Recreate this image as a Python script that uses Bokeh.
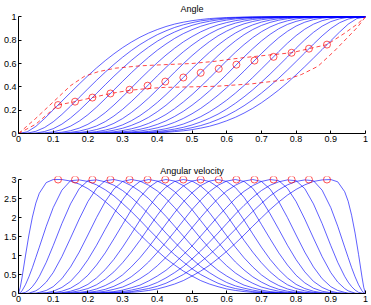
from bokeh.plotting import figure
from bokeh.layouts import column
from bokeh.embed import file_html
from bokeh.resources import INLINE
from bokeh.models import FixedTicker, Range1d

# time grids (s, normalised)
x_vel = [0, 0.005, 0.01, 0.02, 0.03, 0.04, 0.05, 0.06, 0.08, 0.1, 0.125, 0.15, 0.175, 0.2, 0.225,
         0.25, 0.275, 0.3, 0.325, 0.35, 0.375, 0.4, 0.425, 0.45, 0.475, 0.5, 0.525, 0.55, 0.575,
         0.6, 0.625, 0.65, 0.675, 0.7, 0.725, 0.75, 0.775, 0.8, 0.825, 0.85, 0.875, 0.9, 0.92,
         0.94, 0.95, 0.96, 0.97, 0.98, 0.99, 0.995, 1]
x_ang = [0, 0.025, 0.05, 0.075, 0.1, 0.125, 0.15, 0.175, 0.2, 0.225, 0.25, 0.275, 0.3, 0.325,
         0.35, 0.375, 0.4, 0.425, 0.45, 0.475, 0.5, 0.525, 0.55, 0.575, 0.6, 0.625, 0.65, 0.675,
         0.7, 0.725, 0.75, 0.775, 0.8, 0.825, 0.85, 0.875, 0.9, 0.925, 0.95, 0.975, 1]

# peaks (red circles)
peak_t = [0.114, 0.163, 0.213, 0.265, 0.320, 0.372, 0.423, 0.475,
          0.525, 0.577, 0.628, 0.680, 0.735, 0.787, 0.837, 0.889]
peak_angle = [0.244, 0.273, 0.308, 0.343, 0.375, 0.410, 0.445, 0.480,
              0.520, 0.555, 0.590, 0.625, 0.657, 0.692, 0.727, 0.762]
peak_vel = [3, 3, 3, 3, 3, 3, 3, 3, 3, 3, 3, 3, 3, 3, 3, 3]

# red dashed bounds on the angle plot
upper_x = [0, 0.05, 0.10, 0.15, 0.19, 0.23, 0.28, 0.35, 0.42, 0.50, 0.57, 0.62, 0.673, 0.73, 0.787, 0.837, 0.889, 0.94, 0.975, 1]
upper_y = [0, 0.13, 0.27, 0.41, 0.49, 0.53, 0.56, 0.58, 0.59, 0.60, 0.62, 0.64, 0.658, 0.675, 0.692, 0.727, 0.762, 0.86, 0.935, 1]
lower_x = [0, 0.05, 0.085, 0.114, 0.163, 0.213, 0.265, 0.32, 0.37, 0.42, 0.50, 0.57, 0.67, 0.77, 0.815, 0.863, 0.91, 0.948, 0.976, 1]
lower_y = [0, 0.08, 0.17, 0.244, 0.273, 0.308, 0.343, 0.37, 0.385, 0.395, 0.40, 0.405, 0.425, 0.46, 0.505, 0.576, 0.706, 0.822, 0.908, 1]

# angular velocity curves (on x_vel)
vel_0 = [0, 0.16, 0.41, 0.99, 1.54, 2.01, 2.38, 2.64, 2.92, 3, 3, 2.96, 2.88, 2.76, 2.6, 2.42, 2.22, 2, 1.78, 1.55, 1.33, 1.12, 0.92, 0.75, 0.59, 0.46, 0.34, 0.25, 0.18, 0.12, 0.08, 0.05, 0.03, 0.02, 0.01, 0, 0, 0, 0, 0, 0, 0, 0, 0, 0, 0, 0, 0, 0, 0, 0]
vel_1 = [0, 0.02, 0.07, 0.23, 0.44, 0.68, 0.95, 1.22, 1.77, 2.26, 2.72, 2.97, 2.99, 2.95, 2.86, 2.73, 2.57, 2.37, 2.16, 1.93, 1.69, 1.46, 1.23, 1.02, 0.83, 0.65, 0.5, 0.38, 0.27, 0.19, 0.13, 0.09, 0.05, 0.03, 0.02, 0.01, 0, 0, 0, 0, 0, 0, 0, 0, 0, 0, 0, 0, 0, 0, 0]
vel_2 = [0, 0, 0.01, 0.03, 0.09, 0.18, 0.3, 0.45, 0.82, 1.26, 1.84, 2.36, 2.76, 2.97, 2.99, 2.94, 2.85, 2.71, 2.53, 2.32, 2.09, 1.84, 1.59, 1.35, 1.12, 0.91, 0.71, 0.55, 0.41, 0.29, 0.2, 0.14, 0.09, 0.05, 0.03, 0.02, 0.01, 0, 0, 0, 0, 0, 0, 0, 0, 0, 0, 0, 0, 0, 0]
vel_3 = [0, 0, 0, 0, 0.01, 0.04, 0.07, 0.13, 0.3, 0.55, 0.97, 1.46, 1.96, 2.42, 2.77, 2.97, 3, 2.95, 2.84, 2.69, 2.5, 2.27, 2.03, 1.77, 1.51, 1.25, 1.02, 0.8, 0.61, 0.46, 0.33, 0.22, 0.15, 0.09, 0.05, 0.03, 0.01, 0.01, 0, 0, 0, 0, 0, 0, 0, 0, 0, 0, 0, 0, 0]
vel_4 = [0, 0, 0, 0, 0, 0.01, 0.01, 0.03, 0.08, 0.18, 0.39, 0.7, 1.09, 1.54, 2, 2.42, 2.75, 2.95, 3, 2.96, 2.85, 2.7, 2.5, 2.26, 2, 1.73, 1.45, 1.19, 0.95, 0.73, 0.54, 0.39, 0.27, 0.17, 0.11, 0.06, 0.03, 0.02, 0.01, 0, 0, 0, 0, 0, 0, 0, 0, 0, 0, 0, 0]
vel_5 = [0, 0, 0, 0, 0, 0, 0, 0.01, 0.02, 0.06, 0.16, 0.32, 0.57, 0.89, 1.27, 1.69, 2.1, 2.47, 2.77, 2.95, 3, 2.96, 2.85, 2.68, 2.46, 2.21, 1.92, 1.63, 1.35, 1.08, 0.83, 0.62, 0.44, 0.3, 0.19, 0.11, 0.06, 0.03, 0.01, 0.01, 0, 0, 0, 0, 0, 0, 0, 0, 0, 0, 0]
vel_6 = [0, 0, 0, 0, 0, 0, 0, 0, 0.01, 0.02, 0.06, 0.14, 0.28, 0.48, 0.75, 1.07, 1.44, 1.82, 2.2, 2.53, 2.79, 2.95, 3, 2.96, 2.84, 2.65, 2.41, 2.13, 1.83, 1.52, 1.22, 0.94, 0.7, 0.49, 0.33, 0.21, 0.12, 0.06, 0.03, 0.01, 0, 0, 0, 0, 0, 0, 0, 0, 0, 0, 0]
vel_7 = [0, 0, 0, 0, 0, 0, 0, 0, 0, 0.01, 0.02, 0.06, 0.13, 0.24, 0.41, 0.63, 0.9, 1.22, 1.57, 1.93, 2.27, 2.57, 2.8, 2.95, 3, 2.96, 2.83, 2.63, 2.36, 2.06, 1.73, 1.4, 1.09, 0.81, 0.57, 0.38, 0.23, 0.13, 0.07, 0.03, 0.01, 0, 0, 0, 0, 0, 0, 0, 0, 0, 0]
vel_8 = [0, 0, 0, 0, 0, 0, 0, 0, 0, 0, 0.01, 0.03, 0.07, 0.13, 0.23, 0.38, 0.57, 0.81, 1.09, 1.4, 1.73, 2.06, 2.36, 2.63, 2.83, 2.96, 3, 2.95, 2.8, 2.57, 2.27, 1.93, 1.57, 1.22, 0.9, 0.63, 0.41, 0.24, 0.13, 0.06, 0.02, 0.01, 0, 0, 0, 0, 0, 0, 0, 0, 0]
vel_9 = [0, 0, 0, 0, 0, 0, 0, 0, 0, 0, 0, 0.01, 0.03, 0.06, 0.12, 0.21, 0.33, 0.49, 0.7, 0.94, 1.22, 1.52, 1.83, 2.13, 2.41, 2.65, 2.84, 2.96, 3, 2.95, 2.79, 2.53, 2.2, 1.82, 1.44, 1.07, 0.75, 0.48, 0.28, 0.14, 0.06, 0.02, 0.01, 0, 0, 0, 0, 0, 0, 0, 0]
vel_10 = [0, 0, 0, 0, 0, 0, 0, 0, 0, 0, 0, 0.01, 0.01, 0.03, 0.06, 0.11, 0.19, 0.3, 0.44, 0.62, 0.83, 1.08, 1.35, 1.63, 1.92, 2.21, 2.46, 2.68, 2.85, 2.96, 3, 2.95, 2.77, 2.47, 2.1, 1.69, 1.27, 0.89, 0.57, 0.32, 0.16, 0.06, 0.02, 0.01, 0, 0, 0, 0, 0, 0, 0]
vel_11 = [0, 0, 0, 0, 0, 0, 0, 0, 0, 0, 0, 0, 0.01, 0.02, 0.03, 0.06, 0.11, 0.17, 0.27, 0.39, 0.54, 0.73, 0.95, 1.19, 1.45, 1.73, 2, 2.26, 2.5, 2.7, 2.85, 2.96, 3, 2.95, 2.75, 2.42, 2, 1.54, 1.09, 0.7, 0.39, 0.18, 0.08, 0.03, 0.01, 0.01, 0, 0, 0, 0, 0]
vel_12 = [0, 0, 0, 0, 0, 0, 0, 0, 0, 0, 0, 0, 0, 0.01, 0.01, 0.03, 0.05, 0.09, 0.15, 0.22, 0.33, 0.46, 0.61, 0.8, 1.02, 1.25, 1.51, 1.77, 2.03, 2.27, 2.5, 2.69, 2.84, 2.95, 3, 2.97, 2.77, 2.42, 1.96, 1.46, 0.97, 0.55, 0.3, 0.13, 0.07, 0.04, 0.01, 0, 0, 0, 0]
vel_13 = [0, 0, 0, 0, 0, 0, 0, 0, 0, 0, 0, 0, 0, 0, 0.01, 0.02, 0.03, 0.05, 0.09, 0.14, 0.2, 0.29, 0.41, 0.55, 0.71, 0.91, 1.12, 1.35, 1.59, 1.84, 2.09, 2.32, 2.53, 2.71, 2.85, 2.94, 2.99, 2.97, 2.76, 2.36, 1.84, 1.26, 0.82, 0.45, 0.3, 0.18, 0.09, 0.03, 0.01, 0, 0]
vel_14 = [0, 0, 0, 0, 0, 0, 0, 0, 0, 0, 0, 0, 0, 0, 0, 0.01, 0.02, 0.03, 0.05, 0.09, 0.13, 0.19, 0.27, 0.38, 0.5, 0.65, 0.83, 1.02, 1.23, 1.46, 1.69, 1.93, 2.16, 2.37, 2.57, 2.73, 2.86, 2.95, 2.99, 2.97, 2.72, 2.26, 1.77, 1.22, 0.95, 0.68, 0.44, 0.23, 0.07, 0.02, 0]
vel_15 = [0, 0, 0, 0, 0, 0, 0, 0, 0, 0, 0, 0, 0, 0, 0, 0, 0.01, 0.02, 0.03, 0.05, 0.08, 0.12, 0.18, 0.25, 0.34, 0.46, 0.59, 0.74, 0.92, 1.11, 1.32, 1.54, 1.77, 1.99, 2.21, 2.41, 2.59, 2.74, 2.86, 2.95, 2.99, 3, 2.94, 2.68, 2.43, 2.06, 1.59, 1.03, 0.43, 0.16, 0]

# angle curves (on x_ang)
ang_0 = [0, 0.014, 0.061, 0.128, 0.202, 0.277, 0.351, 0.424, 0.495, 0.562, 0.625, 0.683, 0.736, 0.783, 0.825, 0.861, 0.891, 0.917, 0.938, 0.954, 0.967, 0.977, 0.985, 0.99, 0.994, 0.996, 0.998, 0.999, 0.999, 1, 1, 1, 1, 1, 1, 1, 1, 1, 1, 1, 1]
ang_1 = [0, 0.003, 0.019, 0.051, 0.1, 0.163, 0.234, 0.309, 0.383, 0.456, 0.526, 0.592, 0.654, 0.711, 0.762, 0.807, 0.847, 0.88, 0.909, 0.932, 0.95, 0.965, 0.975, 0.984, 0.989, 0.993, 0.996, 0.998, 0.999, 0.999, 1, 1, 1, 1, 1, 1, 1, 1, 1, 1, 1]
ang_2 = [0, 0, 0.004, 0.017, 0.041, 0.08, 0.133, 0.197, 0.269, 0.344, 0.418, 0.491, 0.56, 0.626, 0.686, 0.741, 0.791, 0.834, 0.87, 0.901, 0.927, 0.947, 0.962, 0.974, 0.983, 0.989, 0.993, 0.996, 0.998, 0.999, 1, 1, 1, 1, 1, 1, 1, 1, 1, 1, 1]
ang_3 = [0, 0, 0.001, 0.005, 0.014, 0.033, 0.063, 0.106, 0.161, 0.226, 0.298, 0.373, 0.447, 0.52, 0.589, 0.654, 0.714, 0.767, 0.815, 0.856, 0.89, 0.919, 0.941, 0.959, 0.972, 0.982, 0.989, 0.993, 0.996, 0.998, 0.999, 1, 1, 1, 1, 1, 1, 1, 1, 1, 1]
ang_4 = [0, 0, 0, 0.001, 0.004, 0.011, 0.024, 0.046, 0.079, 0.124, 0.179, 0.244, 0.315, 0.39, 0.465, 0.537, 0.607, 0.672, 0.731, 0.785, 0.831, 0.871, 0.904, 0.931, 0.951, 0.967, 0.979, 0.987, 0.992, 0.996, 0.998, 0.999, 1, 1, 1, 1, 1, 1, 1, 1, 1]
ang_5 = [0, 0, 0, 0, 0.001, 0.004, 0.01, 0.021, 0.039, 0.065, 0.102, 0.15, 0.207, 0.273, 0.344, 0.419, 0.494, 0.566, 0.636, 0.7, 0.758, 0.81, 0.854, 0.892, 0.922, 0.946, 0.964, 0.977, 0.986, 0.992, 0.996, 0.998, 0.999, 1, 1, 1, 1, 1, 1, 1, 1]
ang_6 = [0, 0, 0, 0, 0, 0.001, 0.004, 0.009, 0.018, 0.034, 0.056, 0.087, 0.128, 0.179, 0.238, 0.304, 0.376, 0.451, 0.526, 0.598, 0.667, 0.73, 0.787, 0.837, 0.878, 0.913, 0.94, 0.96, 0.975, 0.985, 0.992, 0.996, 0.998, 0.999, 1, 1, 1, 1, 1, 1, 1]
ang_7 = [0, 0, 0, 0, 0, 0, 0.001, 0.004, 0.008, 0.016, 0.029, 0.048, 0.074, 0.109, 0.153, 0.206, 0.266, 0.333, 0.405, 0.48, 0.555, 0.627, 0.695, 0.758, 0.813, 0.861, 0.9, 0.931, 0.955, 0.972, 0.984, 0.991, 0.996, 0.998, 0.999, 1, 1, 1, 1, 1, 1]
ang_8 = [0, 0, 0, 0, 0, 0, 0.001, 0.002, 0.004, 0.009, 0.016, 0.028, 0.045, 0.069, 0.1, 0.139, 0.187, 0.242, 0.305, 0.373, 0.445, 0.52, 0.595, 0.667, 0.734, 0.794, 0.847, 0.891, 0.926, 0.952, 0.971, 0.984, 0.992, 0.996, 0.999, 1, 1, 1, 1, 1, 1]
ang_9 = [0, 0, 0, 0, 0, 0, 0, 0.001, 0.002, 0.004, 0.008, 0.015, 0.025, 0.04, 0.06, 0.087, 0.122, 0.163, 0.213, 0.27, 0.333, 0.402, 0.474, 0.549, 0.624, 0.696, 0.762, 0.821, 0.872, 0.913, 0.944, 0.966, 0.982, 0.991, 0.996, 0.999, 1, 1, 1, 1, 1]
ang_10 = [0, 0, 0, 0, 0, 0, 0, 0, 0.001, 0.002, 0.004, 0.008, 0.014, 0.023, 0.036, 0.054, 0.078, 0.108, 0.146, 0.19, 0.242, 0.3, 0.364, 0.434, 0.506, 0.581, 0.656, 0.727, 0.793, 0.85, 0.898, 0.935, 0.961, 0.979, 0.99, 0.996, 0.999, 1, 1, 1, 1]
ang_11 = [0, 0, 0, 0, 0, 0, 0, 0, 0, 0.001, 0.002, 0.004, 0.008, 0.013, 0.021, 0.033, 0.049, 0.069, 0.096, 0.129, 0.169, 0.215, 0.269, 0.328, 0.393, 0.463, 0.535, 0.61, 0.685, 0.756, 0.821, 0.876, 0.921, 0.954, 0.976, 0.989, 0.996, 0.999, 1, 1, 1]
ang_12 = [0, 0, 0, 0, 0, 0, 0, 0, 0, 0, 0.001, 0.002, 0.004, 0.007, 0.011, 0.018, 0.028, 0.041, 0.059, 0.081, 0.11, 0.144, 0.185, 0.233, 0.286, 0.346, 0.411, 0.48, 0.553, 0.627, 0.702, 0.774, 0.839, 0.894, 0.937, 0.967, 0.986, 0.995, 0.999, 1, 1]
ang_13 = [0, 0, 0, 0, 0, 0, 0, 0, 0, 0, 0, 0.001, 0.002, 0.004, 0.007, 0.011, 0.017, 0.026, 0.038, 0.053, 0.073, 0.099, 0.13, 0.166, 0.209, 0.259, 0.314, 0.374, 0.44, 0.509, 0.582, 0.656, 0.731, 0.803, 0.867, 0.92, 0.959, 0.983, 0.996, 1, 1]
ang_14 = [0, 0, 0, 0, 0, 0, 0, 0, 0, 0, 0, 0.001, 0.001, 0.002, 0.004, 0.007, 0.011, 0.016, 0.025, 0.035, 0.05, 0.068, 0.091, 0.12, 0.153, 0.193, 0.238, 0.289, 0.346, 0.408, 0.474, 0.544, 0.617, 0.691, 0.766, 0.837, 0.9, 0.949, 0.981, 0.997, 1]
ang_15 = [0, 0, 0, 0, 0, 0, 0, 0, 0, 0, 0, 0, 0.001, 0.001, 0.002, 0.004, 0.006, 0.01, 0.016, 0.023, 0.033, 0.046, 0.062, 0.083, 0.109, 0.139, 0.175, 0.216, 0.263, 0.316, 0.373, 0.436, 0.503, 0.573, 0.646, 0.72, 0.795, 0.869, 0.937, 0.985, 1]

velocities = [vel_0, vel_1, vel_2, vel_3, vel_4, vel_5, vel_6, vel_7,
              vel_8, vel_9, vel_10, vel_11, vel_12, vel_13, vel_14, vel_15]
angles = [ang_0, ang_1, ang_2, ang_3, ang_4, ang_5, ang_6, ang_7,
          ang_8, ang_9, ang_10, ang_11, ang_12, ang_13, ang_14, ang_15]

x_ticks = [0, 0.1, 0.2, 0.3, 0.4, 0.5, 0.6, 0.7, 0.8, 0.9, 1]
x_tick_labels = ["0", "0.1", "0.2", "0.3", "0.4", "0.5", "0.6", "0.7", "0.8", "0.9", "1"]
ang_ticks = [0, 0.2, 0.4, 0.6, 0.8, 1]
ang_tick_labels = ["0", "0.2", "0.4", "0.6", "0.8", "1"]
vel_ticks = [0, 0.5, 1, 1.5, 2, 2.5, 3]
vel_tick_labels = ["0", "0.5", "1", "1.5", "2", "2.5", "3"]

BLUE = "#0000ff"
RED = "#ff0000"
FONT = "Liberation Sans"


def style(p, yt, ylab, ymax):
    p.xgrid.visible = False
    p.ygrid.visible = False
    p.outline_line_color = None
    p.xaxis.ticker = FixedTicker(ticks=x_ticks)
    p.xaxis.major_label_overrides = dict(zip(x_ticks, x_tick_labels))
    p.yaxis.ticker = FixedTicker(ticks=yt)
    p.yaxis.major_label_overrides = dict(zip(yt, ylab))
    p.yaxis.bounds = (0, ymax)
    p.xaxis.bounds = (0, 1)
    for ax in (p.xaxis[0], p.yaxis[0]):
        ax.major_tick_in = 3
        ax.major_tick_out = 0
        ax.minor_tick_line_color = None
        ax.major_label_text_font_size = "9px"
        ax.major_label_text_font = FONT
        ax.major_label_text_color = "black"
        ax.major_label_standoff = 2
        ax.axis_line_color = "black"
        ax.major_tick_line_color = "black"
    p.title.align = "center"
    p.title.text_font_size = "9px"
    p.title.text_font = FONT
    p.title.text_font_style = "normal"
    p.title.text_color = "black"
    p.title.standoff = 2


top = figure(width=371, height=149, x_range=Range1d(0, 1), y_range=Range1d(0, 1.02),
             output_backend="svg", toolbar_location=None, title="Angle",
             min_border_left=5, min_border_right=6, min_border_top=0, min_border_bottom=16)
style(top, ang_ticks, ang_tick_labels, 1)
for a in angles:
    top.line(x_ang, a, color=BLUE, line_width=0.9, alpha=0.7)
top.line(upper_x, upper_y, color=RED, line_width=0.9, alpha=0.8, line_dash="4 3")
top.line(lower_x, lower_y, color=RED, line_width=0.9, alpha=0.8, line_dash="4 3")
top.scatter(peak_t, peak_angle, size=7, fill_color=None, line_color=RED, line_alpha=0.75, line_width=0.9)

bot = figure(width=371, height=156, x_range=Range1d(0, 1), y_range=Range1d(0, 3.08),
             output_backend="svg", toolbar_location=None, title="Angular velocity",
             min_border_left=5, min_border_right=6, min_border_top=27, min_border_bottom=12)
style(bot, vel_ticks, vel_tick_labels, 3)
for v in velocities:
    bot.line(x_vel, v, color=BLUE, line_width=0.9, alpha=0.7)
bot.scatter(peak_t, peak_vel, size=7, fill_color=None, line_color=RED, line_alpha=0.75, line_width=0.9)

open("out.html", "w").write(file_html(column(top, bot, spacing=0), INLINE))
